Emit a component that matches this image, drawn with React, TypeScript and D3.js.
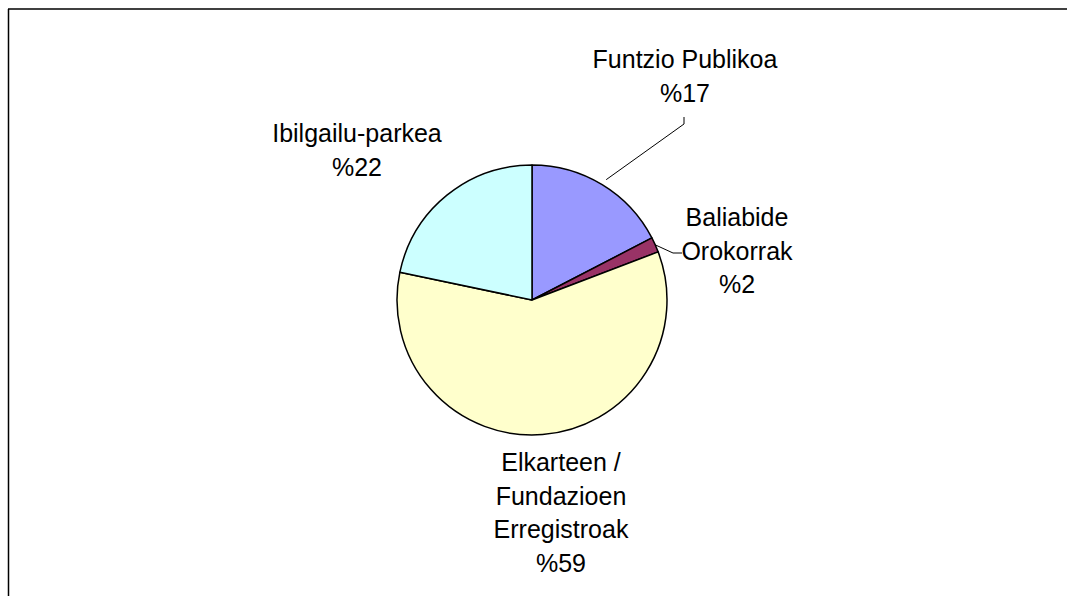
import React from "react";
import * as d3 from "d3";

const categories = ["Funtzio Publikoa", "Baliabide Orokorrak", "Elkarteen / Fundazioen Erregistroak", "Ibilgailu-parkea"];
const values = [17.4, 1.8, 59.1, 21.7];
const percentLabels = ["%17", "%2", "%59", "%22"];
const labelLines = [
  ["Funtzio Publikoa", "%17"],
  ["Baliabide", "Orokorrak", "%2"],
  ["Elkarteen /", "Fundazioen", "Erregistroak", "%59"],
  ["Ibilgailu-parkea", "%22"],
];
const colors = ["#9999FF", "#993366", "#FFFFCC", "#CCFFFF"];

const W = 1067;
const H = 596;
const cx = 532;
const cy = 300;
const R = 135;
const FS = 25;
const LH = 33.7;

// label layout: center x, first baseline, leader endpoint info
const labelPos = [
  { x: 685, y: 68 },
  { x: 737, y: 226 },
  { x: 561, y: 471 },
  { x: 357, y: 142 },
];

export default function App() {
  const pie = d3.pie<number>().sort(null).value((d) => d)(values);
  const arc = d3.arc<d3.PieArcDatum<number>>().innerRadius(0).outerRadius(R);

  const edge = (a: d3.PieArcDatum<number>, r: number) => {
    const m = (a.startAngle + a.endAngle) / 2;
    return [cx + r * Math.sin(m), cy - r * Math.cos(m)];
  };

  const p0 = edge(pie[0], R);
  const p1 = edge(pie[1], R);
  const leader0 = d3.line()([
    [p0[0] + 4, p0[1] - 5],
    [684, 124],
    [684, 117],
  ] as [number, number][]);
  const leader1 = d3.line()([
    [p1[0], p1[1]],
    [673, 253],
    [682, 253],
  ] as [number, number][]);

  return (
    <svg width={W} height={H} style={{ position: "absolute", left: 0, top: 0 }}>
      <rect x={0} y={0} width={W} height={H} fill="#fff" />
      <line x1={8} y1={9} x2={W} y2={9} stroke="#000" strokeWidth={1.5} />
      <line x1={8.5} y1={9} x2={8.5} y2={H} stroke="#000" strokeWidth={1.5} />
      <g transform={`translate(${cx},${cy})`}>
        {pie.map((a, i) => (
          <path key={categories[i]} d={arc(a) || ""} fill={colors[i]} stroke="#000" strokeWidth={1.5} strokeLinejoin="round" />
        ))}
      </g>
      <path d={leader0 || ""} fill="none" stroke="#000" strokeWidth={1} />
      <path d={leader1 || ""} fill="none" stroke="#000" strokeWidth={1} />
      {labelLines.map((lines, i) => (
        <text
          key={percentLabels[i]}
          x={labelPos[i].x}
          y={labelPos[i].y}
          textAnchor="middle"
          fontFamily="'Liberation Sans', Arial, sans-serif"
          fontSize={FS}
          fill="#000"
        >
          {lines.map((l, j) => (
            <tspan key={j} x={labelPos[i].x} y={labelPos[i].y + j * LH}>
              {l}
            </tspan>
          ))}
        </text>
      ))}
    </svg>
  );
}
